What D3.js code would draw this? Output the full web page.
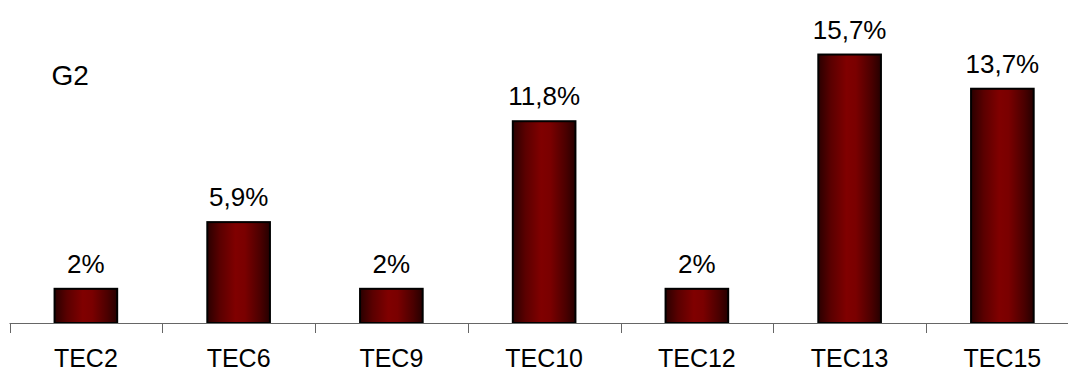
<!DOCTYPE html>
<html>
<head>
<meta charset="utf-8">
<script src="https://cdn.jsdelivr.net/npm/d3@7"></script>
<style>
  html, body { margin: 0; padding: 0; background: #fff; }
  svg { display: block; font-family: "Liberation Sans", Arial, sans-serif; }
</style>
</head>
<body>
<svg id="chart" width="1068" height="372"></svg>
<script>
// Share of group G2 per technique
const categories = ["TEC2", "TEC6", "TEC9", "TEC10", "TEC12", "TEC13", "TEC15"];
const values = [2, 5.9, 2, 11.8, 2, 15.7, 13.7];
const groupTitle = "G2";

const width = 1068, height = 372;
const axisY = 323;
const left = 9.5, step = 152.75;

const svg = d3.select("#chart");

// Horizontal shading for the bars: dark edges, lighter red centre
const defs = svg.append("defs");
const grad = defs.append("linearGradient")
  .attr("id", "barShade").attr("x1", "0%").attr("x2", "100%").attr("y1", "0%").attr("y2", "0%");
[["0%", "#2a0000"], ["20%", "#5a0000"], ["45%", "#800000"], ["60%", "#7a0000"], ["85%", "#4a0000"], ["100%", "#260000"]]
  .forEach(([o, c]) => grad.append("stop").attr("offset", o).attr("stop-color", c));

// Category slots (tick boundaries) and bars inside them
const xSlot = d3.scaleBand().domain(categories).range([left, left + step * categories.length]).padding(0);
const x = d3.scaleBand().domain(categories).range([left, left + step * categories.length])
  .paddingInner(0.59).paddingOuter(0.295);
const y = d3.scaleLinear().domain([0, 18]).range([axisY, axisY - 17.1 * 18]);

const fmt = v => (Number.isInteger(v) ? String(v) : v.toFixed(1).replace(".", ",")) + "%";

// Bars
svg.append("g").selectAll("rect").data(values).join("rect")
  .attr("x", (d, i) => x(categories[i]))
  .attr("y", d => y(d))
  .attr("width", x.bandwidth())
  .attr("height", d => y(0) - y(d))
  .attr("fill", "url(#barShade)")
  .attr("stroke", "#000")
  .attr("stroke-width", 2);

// Value labels
svg.append("g").selectAll("text").data(values).join("text")
  .attr("x", (d, i) => x(categories[i]) + x.bandwidth() / 2)
  .attr("y", d => y(d) - 16)
  .attr("text-anchor", "middle")
  .attr("font-size", 26)
  .attr("fill", "#000")
  .text(fmt);

// Category axis
const axis = svg.append("g");
axis.append("line")
  .attr("x1", left).attr("x2", width)
  .attr("y1", axisY + 0.5).attr("y2", axisY + 0.5)
  .attr("stroke", "#666").attr("stroke-width", 1);
const tickXs = categories.map(c => xSlot(c)).concat([xSlot(categories[categories.length - 1]) + xSlot.bandwidth()]);
axis.selectAll("line.tick").data(tickXs).join("line")
  .attr("class", "tick")
  .attr("x1", d => Math.round(d) + 0.5).attr("x2", d => Math.round(d) + 0.5)
  .attr("y1", axisY).attr("y2", axisY + 10)
  .attr("stroke", "#666").attr("stroke-width", 1);
axis.selectAll("text").data(categories).join("text")
  .attr("x", c => xSlot(c) + xSlot.bandwidth() / 2)
  .attr("y", 367)
  .attr("text-anchor", "middle")
  .attr("font-size", 25)
  .attr("fill", "#000")
  .text(c => c);

// Group title
svg.append("text")
  .attr("x", 51.5).attr("y", 85)
  .attr("font-size", 28)
  .attr("fill", "#000")
  .text(groupTitle);
</script>
</body>
</html>
